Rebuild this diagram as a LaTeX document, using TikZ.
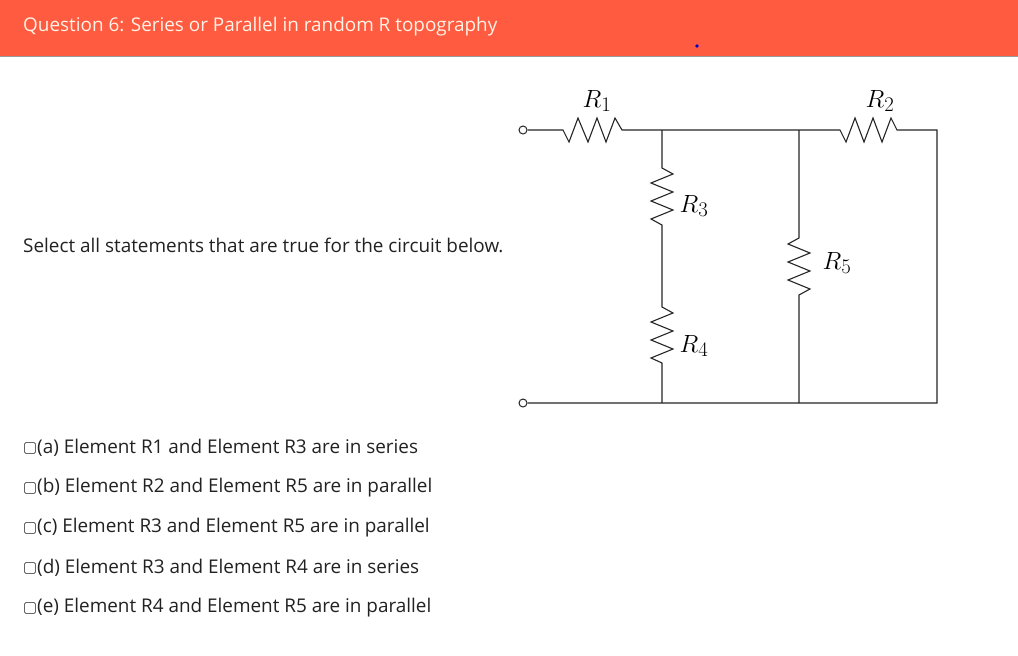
\documentclass[tikz,border=0pt]{standalone}
\usepackage{fontspec}
\setmainfont{Open Sans}
\definecolor{hdr}{HTML}{FF5B40}
\definecolor{hdrtxt}{HTML}{FFF2E6}
\definecolor{txt}{HTML}{222222}
\begin{document}
\begin{tikzpicture}[x=1pt,y=-1pt,
  wire/.style={line width=1.1pt,draw=black!85},
  term/.style={circle,draw=black!85,line width=1pt,fill=white,inner sep=0pt,minimum size=8pt},
  lbl/.style={font=\fontsize{29}{32}\selectfont,inner sep=0pt},
  body/.style={font=\fontsize{18.9}{22}\selectfont,text=txt,anchor=west,inner sep=0pt},
  cbox/.style={draw=black!60,line width=0.8pt,rounded corners=1.5pt,minimum size=11pt,inner sep=0pt}]
\useasboundingbox (0,0) rectangle (1018,656);
\fill[white] (0,0) rectangle (1018,656);
\fill[hdr] (0,0) rectangle (1018,56);
\draw[black!40,line width=0.8pt] (0,56.5) -- (1018,56.5);
\node[anchor=west,inner sep=0pt,text=hdrtxt,font=\fontsize{18.9}{22}\selectfont] (title) at (23,27) {Question 6: Series or Parallel in random R topography};
\fill[blue!80!black] (697,46) circle (1.8pt);
\node[body] (prompt) at (23,245) {Select all statements that are true for the circuit below.};
% options
\foreach \y/\t [count=\i] in {448/{(a) Element R1 and Element R3 are in series},488/{(b) Element R2 and Element R5 are in parallel},528/{(c) Element R3 and Element R5 are in parallel},568/{(d) Element R3 and Element R4 are in series},608/{(e) Element R4 and Element R5 are in parallel}}{
  \node[cbox] (cb\i) at (30,\y) {};
  \node[body] (op\i) at (37,\y) {\t};
}
% circuit
\coordinate (A) at (662,130);
\coordinate (B) at (799,130);
\coordinate (C) at (937,130);
\coordinate (D) at (937,403);
\coordinate (E) at (799,403);
\coordinate (F) at (662,403);
\node[term] (t1) at (523,130) {};
\node[term] (t2) at (523,403) {};
% R1
\draw[wire] (t1.east) -- (563,130) -- (569,142) -- (578,118) -- (588,142) -- (597,118) -- (606,142) -- (615,118) -- (622,130) -- (A) -- (B) -- (840,130) -- (846,142) -- (855,118) -- (864,142) -- (873,118) -- (882,142) -- (891,118) -- (897,130) -- (C) -- (D) -- (E) -- (F) -- (t2.east);
% R3, R4
\draw[wire] (A) -- (662,168) -- (673,174) -- (651,183) -- (673,192) -- (651,201) -- (673,210) -- (651,219) -- (662,225) -- (662,307) -- (673,313) -- (651,322) -- (673,331) -- (651,340) -- (673,349) -- (651,358) -- (662,363) -- (F);
% R5
\draw[wire] (B) -- (799,238) -- (788,244) -- (810,253) -- (788,262) -- (810,271) -- (788,280) -- (810,289) -- (799,295) -- (E);
\node[lbl] (r1) at (597,101) {$R_1$};
\node[lbl] (r2) at (880,101) {$R_2$};
\node[lbl] (r3) at (694,206) {$R_3$};
\node[lbl] (r4) at (694,346) {$R_4$};
\node[lbl] (r5) at (837,263) {$R_5$};
\end{tikzpicture}
\end{document}
